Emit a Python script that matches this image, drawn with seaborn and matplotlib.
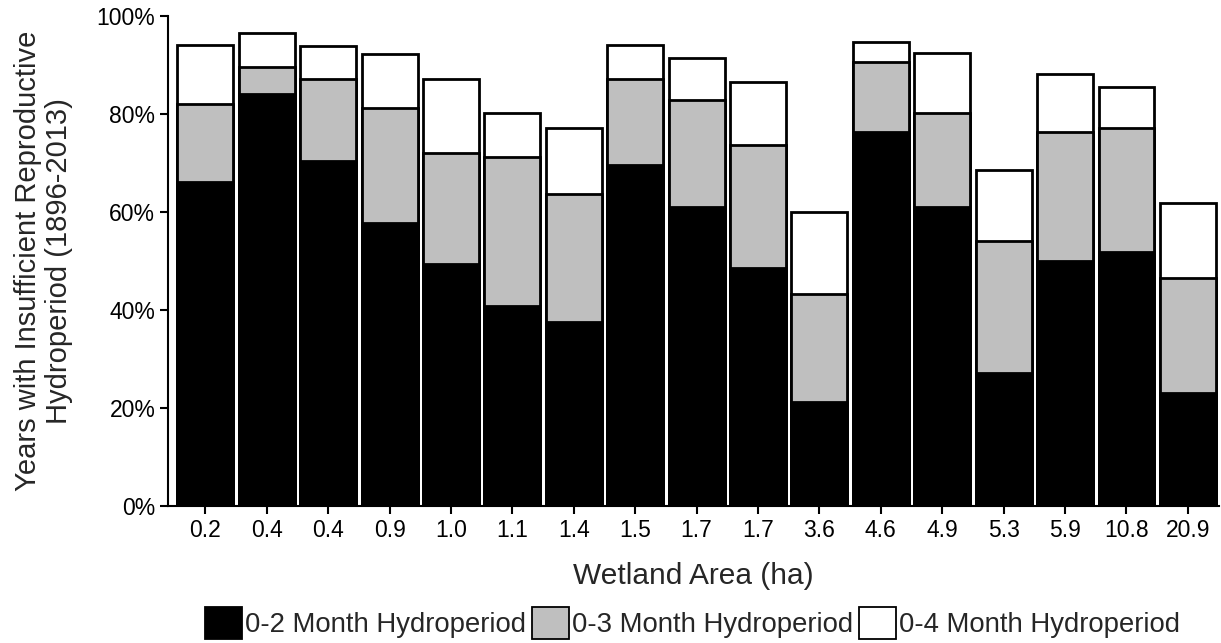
import pandas as pd
import numpy as np
import matplotlib.pyplot as plt
import seaborn as sns
from matplotlib.patches import Patch
from matplotlib.ticker import PercentFormatter

# =====================================================
# DATA (cumulative % of years)
# =====================================================

area_labels = [
    "0.2", "0.4", "0.4", "0.9", "1.0", "1.1", "1.4", "1.5", "1.7",
    "1.7", "3.6", "4.6", "4.9", "5.3", "5.9", "10.8", "20.9"
]

hydro_0_2 = [
    66.2, 84.0, 70.4, 57.7, 49.4, 40.8, 37.5, 69.6, 61.1,
    48.5, 21.3, 76.4, 61.1, 27.2, 50.1, 51.8, 23.0
]

hydro_0_3 = [
    82.1, 89.7, 87.1, 81.2, 72.0, 71.2, 63.6, 87.2, 82.9,
    73.7, 43.2, 90.6, 80.3, 54.1, 76.3, 77.1, 46.5
]

hydro_0_4 = [
    94.1, 96.5, 93.9, 92.3, 87.2, 80.3, 77.1, 94.1, 91.4,
    86.5, 60.0, 94.8, 92.4, 68.5, 88.2, 85.5, 61.8
]

series_names = [
    "0-2 Month Hydroperiod",
    "0-3 Month Hydroperiod",
    "0-4 Month Hydroperiod"
]

series_colors = ["#000000", "#bfbfbf", "#ffffff"]

df = pd.DataFrame({
    "site": np.arange(len(area_labels)),
    "h02": hydro_0_2,
    "h03": hydro_0_3,
    "h04": hydro_0_4
})

# =====================================================
# PLOT
# =====================================================

sns.set_style("ticks")
plt.rcParams["font.family"] = ["Liberation Sans", "DejaVu Sans"]

fig = plt.figure(figsize=(12.21, 6.43), dpi=100)
ax = fig.add_axes([0.138, 0.213, 0.860, 0.762])

# draw tallest first, so shorter series sit on top
for col, color in zip(["h04", "h03", "h02"], series_colors[::-1]):
    sns.barplot(
        data=df,
        x="site",
        y=col,
        color=color,
        edgecolor="black",
        linewidth=2.0,
        width=0.91,
        saturation=1,
        errorbar=None,
        ax=ax
    )

ax.set_xlim(-0.6, 16.5)
ax.set_ylim(0, 100)
ax.set_yticks([0, 20, 40, 60, 80, 100])
ax.yaxis.set_major_formatter(PercentFormatter(decimals=0))
ax.set_xticks(range(len(area_labels)))
ax.set_xticklabels(area_labels)

ax.tick_params(axis="both", labelsize=16.5, length=6, width=1.5,
               color="black", labelcolor="black")

for side in ["top", "right"]:
    ax.spines[side].set_visible(False)
for side in ["left", "bottom"]:
    ax.spines[side].set_linewidth(1.5)
    ax.spines[side].set_color("black")

ax.set_xlabel("Wetland Area (ha)", fontsize=21.5, labelpad=14)
ax.set_ylabel(
    "Years with Insufficient Reproductive\nHydroperiod (1896-2013)",
    fontsize=21,
    labelpad=17,
    linespacing=1.15
)

handles = [
    Patch(facecolor=c, edgecolor="black", linewidth=1.3)
    for c in series_colors
]

fig.legend(
    handles,
    series_names,
    loc="center",
    bbox_to_anchor=(0.567, 0.031),
    ncol=3,
    frameon=False,
    fontsize=19.8,
    handlelength=1.37,
    handleheight=1.37,
    handletextpad=0.1,
    columnspacing=0.2,
    borderpad=0.1
)

fig.savefig("out.png", dpi=100)
plt.close()
